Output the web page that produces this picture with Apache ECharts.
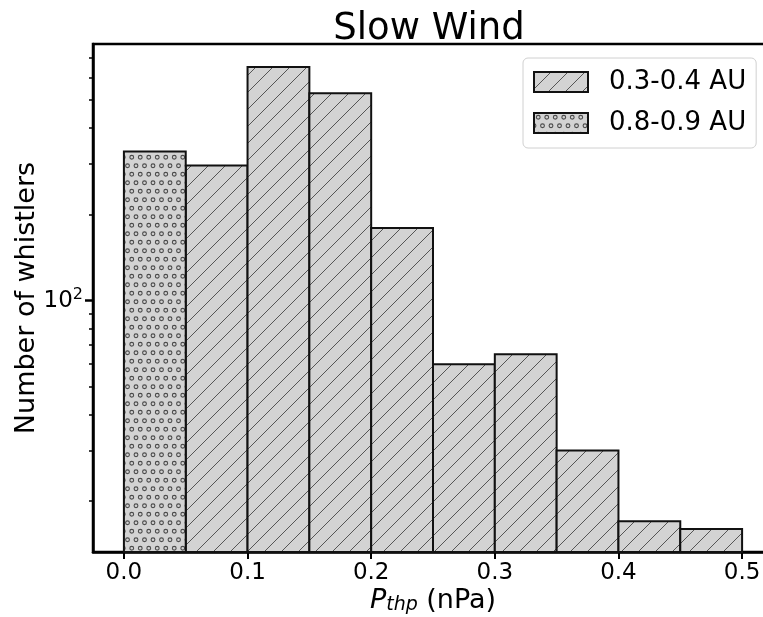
<!DOCTYPE html>
<html>
<head>
<meta charset="utf-8">
<script src="https://cdn.jsdelivr.net/npm/echarts@6/dist/echarts.min.js"></script>
<style>html,body{margin:0;padding:0;background:#fff}#c{width:763px;height:617px}</style>
</head>
<body>
<div id="c"></div>
<script>
// ---- data ----
const binLeft  = [0.00, 0.05, 0.10, 0.15, 0.20, 0.25, 0.30, 0.35, 0.40, 0.45];
const binRight = [0.05, 0.10, 0.15, 0.20, 0.25, 0.30, 0.35, 0.40, 0.45, 0.50];
const counts03 = [null, 296, 652, 528, 179, 60, 65, 30, 17, 16];   // 0.3-0.4 AU
const counts08 = [331, null, null, null, null, null, null, null, null, null]; // 0.8-0.9 AU
const seriesNames = ['0.3-0.4 AU', '0.8-0.9 AU'];
const xTicks = [0, 0.1, 0.2, 0.3, 0.4, 0.5];
const yMajor = [100];
const yMinor = [20, 30, 40, 50, 60, 70, 80, 90, 200, 300, 400, 500, 600, 700];
const Y_MIN = 13.29, Y_MAX = 784.8;
const X_MIN = -0.025, X_MAX = 0.525;

// ---- patterns ----
function hatchCanvas() {
  const s = 17, c = document.createElement('canvas');
  c.width = s; c.height = s;
  const g = c.getContext('2d');
  g.fillStyle = '#d3d3d3'; g.fillRect(0, 0, s, s);
  g.strokeStyle = '#555'; g.lineWidth = 1;
  g.beginPath();
  g.moveTo(-2, s + 2); g.lineTo(s + 2, -2);
  g.moveTo(-2, 2); g.lineTo(2, -2);
  g.moveTo(s - 2, s + 2); g.lineTo(s + 2, s - 2);
  g.stroke();
  return c;
}
function dotCanvas() {
  const s = 17, c = document.createElement('canvas');
  c.width = s; c.height = s;
  const g = c.getContext('2d');
  g.fillStyle = '#d3d3d3'; g.fillRect(0, 0, s, s);
  g.strokeStyle = '#4a4a4a'; g.lineWidth = 1.1;
  const pts = [[4.25, 4.25], [12.75, 4.25], [0, 12.75], [8.5, 12.75], [17, 12.75]];
  pts.forEach(p => { g.beginPath(); g.arc(p[0], p[1], 1.9, 0, Math.PI * 2); g.stroke(); });
  return c;
}
const hatchFill = { image: hatchCanvas(), repeat: 'repeat' };
const dotFill = { image: dotCanvas(), repeat: 'repeat' };

function buildData(counts) {
  const out = [];
  counts.forEach((v, i) => { if (v != null) out.push([binLeft[i], binRight[i], v]); });
  return out;
}
function renderBar(fill) {
  return function (params, api) {
    const p0 = api.coord([api.value(0), api.value(2)]);
    const p1 = api.coord([api.value(1), Y_MIN]);
    return {
      type: 'rect',
      shape: { x: p0[0], y: p0[1], width: p1[0] - p0[0], height: p1[1] - p0[1] },
      style: { fill: fill, stroke: '#111', lineWidth: 2 }
    };
  };
}

const FONT = 'DejaVu Sans';
const chart = echarts.init(document.getElementById('c'), null, { renderer: 'canvas' });
chart.setOption({
  animation: false,
  backgroundColor: '#fff',
  title: {
    text: 'Slow Wind', left: 424, top: 6, textAlign: 'center',
    textStyle: { fontFamily: FONT, fontSize: 37, fontWeight: 'normal', color: '#000' }
  },
  legend: {
    orient: 'vertical', left: 523, top: 58,
    padding: [11, 10, 12, 10], itemGap: 15, itemWidth: 54, itemHeight: 20,
    icon: 'rect',
    backgroundColor: '#fff', borderColor: '#d0d0d0', borderWidth: 1, borderRadius: 5,
    textStyle: { fontFamily: FONT, fontSize: 26, color: '#000', padding: [0, 0, 0, 16] },
    data: seriesNames
  },
  grid: {
    left: 93, top: 44, right: -10, bottom: 65, containLabel: false,
    outerBoundsMode: 'none',
    show: true, borderColor: '#000', borderWidth: 2.5, backgroundColor: 'transparent'
  },
  xAxis: {
    type: 'value', min: X_MIN, max: X_MAX,
    axisLine: { show: true, onZero: false, lineStyle: { color: '#000', width: 2.5 } },
    axisTick: { show: true, length: 7, lineStyle: { color: '#000', width: 2 }, customValues: xTicks },
    axisLabel: {
      customValues: xTicks, margin: 10,
      fontFamily: FONT, fontSize: 23, color: '#000',
      formatter: v => v.toFixed(1)
    },
    splitLine: { show: false },
    name: '{i|P}{s|thp}{n| (nPa)}', nameLocation: 'middle', nameGap: 34,
    nameMoveOverlap: false,
    nameTextStyle: {
      rich: {
        i: { fontFamily: FONT, fontSize: 27, fontStyle: 'italic', color: '#000' },
        s: { fontFamily: FONT, fontSize: 19, fontStyle: 'italic', color: '#000', padding: [10, 0, 0, 0] },
        n: { fontFamily: FONT, fontSize: 27, color: '#000' }
      }
    }
  },
  yAxis: [{
    type: 'log', min: Y_MIN, max: Y_MAX, position: 'left',
    axisLine: { show: true, onZero: false, lineStyle: { color: '#000', width: 2.5 } },
    axisTick: { show: true, length: 8, lineStyle: { color: '#000', width: 2.5 }, customValues: yMajor },
    axisLabel: {
      customValues: yMajor, margin: 10,
      formatter: () => '{b|10}{p|2}',
      rich: {
        b: { fontFamily: FONT, fontSize: 23, color: '#000' },
        p: { fontFamily: FONT, fontSize: 16, color: '#000', padding: [0, 0, 12, 0] }
      }
    },
    splitLine: { show: false },
    name: 'Number of whistlers', nameLocation: 'middle', nameGap: 53, nameRotate: 90,
    nameMoveOverlap: false,
    nameTextStyle: { fontFamily: FONT, fontSize: 27, color: '#000' }
  }, {
    type: 'log', min: Y_MIN, max: Y_MAX, position: 'left',
    axisLine: { show: false, onZero: false },
    axisTick: { show: true, length: 4, lineStyle: { color: '#000', width: 1.5 }, customValues: yMinor },
    axisLabel: { show: false },
    splitLine: { show: false }
  }],
  series: [{
    name: seriesNames[0], type: 'custom', renderItem: renderBar(hatchFill),
    itemStyle: { color: hatchFill, borderColor: '#111', borderWidth: 2 },
    encode: { x: [0, 1], y: 2 },
    data: buildData(counts03), z: 2
  }, {
    name: seriesNames[1], type: 'custom', renderItem: renderBar(dotFill),
    itemStyle: { color: dotFill, borderColor: '#111', borderWidth: 2 },
    encode: { x: [0, 1], y: 2 },
    data: buildData(counts08), z: 3
  }]
});
</script>
</body>
</html>
